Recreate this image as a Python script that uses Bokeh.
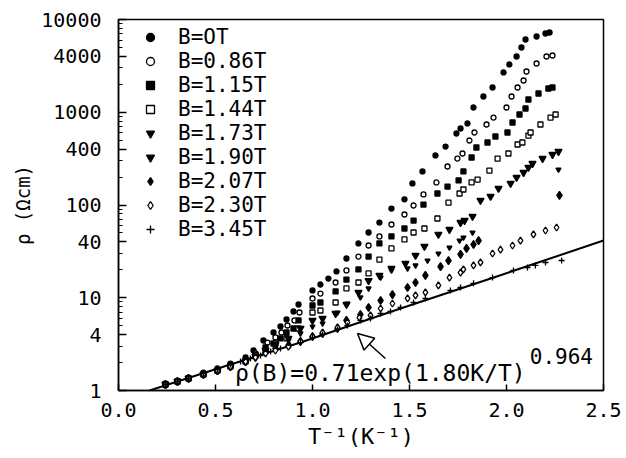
from bokeh.plotting import figure
from bokeh.models import (Range1d, FixedTicker, NumeralTickFormatter, Legend,
                          LegendItem, Arrow, NormalHead)
from bokeh.core.properties import value
from bokeh.embed import file_html
from bokeh.resources import INLINE

FONT = "DejaVu Sans Mono"

# ---------------- data ----------------
labels = ["B=OT", "B=0.86T", "B=1.15T", "B=1.44T", "B=1.73T",
          "B=1.90T", "B=2.07T", "B=2.30T", "B=3.45T"]

x_b000 = [0.242, 0.304, 0.361, 0.438, 0.510, 0.577, 0.655, 0.696, 0.747, 0.799,
          0.835, 0.866, 0.902, 0.928, 1.000, 1.041, 1.082, 1.124, 1.175, 1.237,
          1.289, 1.345, 1.407, 1.474, 1.515, 1.567, 1.634, 1.686, 1.742, 1.763,
          1.799, 1.830, 1.881, 1.928, 1.985, 2.015, 2.052, 2.077, 2.098, 2.155,
          2.201, 2.222]
y_b000 = [1.19, 1.28, 1.38, 1.56, 1.73, 1.95, 2.27, 2.70, 3.46, 4.22,
          4.90, 5.83, 7.11, 8.46, 12.0, 13.9, 16.1, 19.2, 26.5, 38.5,
          50.5, 64.7, 91.6, 115, 171, 230, 342, 427, 590, 668,
          757, 1125, 1479, 1849, 2685, 3275, 3993, 4990, 6085, 6561,
          7063, 7244]

x_b086 = [0.242, 0.304, 0.361, 0.438, 0.510, 0.577, 0.655, 0.706, 0.768, 0.809,
          0.840, 0.871, 0.907, 0.933, 1.000, 1.041, 1.119, 1.175, 1.237, 1.289,
          1.345, 1.407, 1.474, 1.521, 1.572, 1.639, 1.696, 1.747, 1.773, 1.809,
          1.835, 1.897, 1.933, 2.000, 2.026, 2.057, 2.088, 2.103, 2.155, 2.206,
          2.237]
y_b086 = [1.16, 1.25, 1.35, 1.49, 1.64, 1.81, 2.05, 2.51, 3.29, 3.73,
          4.22, 5.02, 5.69, 6.93, 9.82, 11.1, 14.6, 19.7, 27.8, 36.6,
          45.8, 61.6, 79.0, 98.8, 130, 175, 260, 317, 359, 496,
          605, 738, 877, 1125, 1479, 1849, 2200, 2749, 3356, 3993,
          4093]

x_b115 = [0.242, 0.304, 0.361, 0.438, 0.510, 0.577, 0.655, 0.706, 0.758, 0.799,
          0.835, 0.866, 0.902, 0.928, 1.000, 1.041, 1.119, 1.175, 1.237, 1.289,
          1.345, 1.407, 1.474, 1.521, 1.572, 1.644, 1.696, 1.753, 1.778, 1.820,
          1.845, 1.902, 1.943, 2.005, 2.031, 2.067, 2.098, 2.113, 2.165, 2.216,
          2.237]
y_b115 = [1.16, 1.25, 1.35, 1.49, 1.64, 1.86, 2.11, 2.44, 2.91, 3.21,
          3.64, 4.22, 4.66, 5.69, 8.25, 8.89, 11.7, 15.7, 20.2, 27.8,
          38.5, 45.8, 55.8, 68.0, 101, 133, 158, 184, 230, 325,
          417, 472, 548, 605, 775, 946, 1097, 1372, 1592, 1803,
          1849]

x_b144 = [0.242, 0.304, 0.361, 0.438, 0.510, 0.577, 0.655, 0.706, 0.758, 0.809,
          0.866, 0.928, 1.000, 1.041, 1.119, 1.175, 1.237, 1.289, 1.345, 1.407,
          1.474, 1.521, 1.577, 1.644, 1.701, 1.758, 1.778, 1.820, 1.851, 1.912,
          1.954, 2.010, 2.057, 2.082, 2.113, 2.124, 2.175, 2.227, 2.253]
y_b144 = [1.16, 1.25, 1.35, 1.49, 1.64, 1.81, 2.05, 2.38, 2.70, 3.21,
          3.64, 4.66, 6.93, 7.29, 8.89, 12.6, 14.6, 18.3, 25.8, 34.0,
          42.5, 50.5, 55.8, 71.5, 106, 133, 147, 175, 188, 235,
          317, 359, 449, 472, 561, 605, 738, 877, 946]

x_b173 = [0.242, 0.304, 0.361, 0.438, 0.510, 0.577, 0.655, 0.706, 0.758, 0.809,
          0.876, 0.938, 1.000, 1.052, 1.119, 1.175, 1.237, 1.289, 1.345, 1.407,
          1.479, 1.531, 1.577, 1.649, 1.706, 1.763, 1.784, 1.825, 1.866, 1.918,
          1.959, 2.021, 2.052, 2.088, 2.113, 2.134, 2.186, 2.237, 2.268]
y_b173 = [1.16, 1.25, 1.35, 1.49, 1.64, 1.81, 2.05, 2.33, 2.70, 3.13,
          3.64, 4.66, 5.69, 5.97, 6.76, 8.46, 11.4, 15.3, 17.4, 20.7,
          23.4, 28.6, 35.7, 48.1, 54.4, 64.7, 68.0, 75.2, 112, 124,
          151, 171, 198, 224, 254, 280, 317, 350, 377]

x_b190 = [0.242, 0.304, 0.361, 0.438, 0.510, 0.577, 0.655, 0.706, 0.758, 0.809,
          0.876, 0.938, 1.000, 1.052, 1.129, 1.180, 1.247, 1.289, 1.351, 1.407,
          1.490, 1.531, 1.593, 1.649, 1.706, 1.758, 1.778, 1.825, 2.268]
y_b190 = [1.16, 1.25, 1.35, 1.49, 1.64, 1.81, 2.05, 2.33, 2.63, 2.98,
          3.46, 4.12, 4.90, 5.28, 6.93, 8.67, 10.1, 12.6, 16.5, 19.7,
          20.7, 22.3, 25.2, 30.0, 34.8, 41.4, 44.6, 50.5, 241]

x_b207 = [0.242, 0.304, 0.361, 0.438, 0.510, 0.577, 0.655, 0.706, 0.758, 0.809,
          0.876, 0.938, 1.000, 1.052, 1.129, 1.175, 1.247, 1.289, 1.351, 1.412,
          1.490, 1.531, 1.582, 1.660, 1.701, 1.763, 1.794, 1.830, 1.856, 2.273]
y_b207 = [1.16, 1.25, 1.35, 1.49, 1.64, 1.81, 2.05, 2.27, 2.57, 2.84,
          3.06, 3.38, 3.82, 4.12, 4.66, 5.69, 6.60, 7.85, 9.34, 10.8,
          12.9, 14.6, 17.4, 21.7, 25.2, 29.3, 34.0, 37.5, 41.4, 127]

x_b230 = [0.242, 0.304, 0.361, 0.438, 0.510, 0.577, 0.655, 0.706, 0.758, 0.809,
          0.876, 0.938, 1.000, 1.052, 1.129, 1.180, 1.242, 1.299, 1.351, 1.412,
          1.490, 1.531, 1.582, 1.649, 1.706, 1.763, 1.778, 1.830, 1.866, 1.928,
          1.969, 2.031, 2.072, 2.139, 2.201, 2.258]
y_b230 = [1.16, 1.25, 1.35, 1.49, 1.64, 1.81, 2.05, 2.27, 2.51, 2.70,
          2.98, 3.38, 3.82, 4.22, 4.78, 5.41, 6.12, 6.44, 7.66, 8.67,
          9.82, 10.6, 11.4, 13.6, 16.5, 18.7, 20.2, 22.3, 24.0, 30.0,
          33.1, 36.6, 41.4, 48.1, 53.1, 57.2]

x_b345 = [0.242, 0.304, 0.361, 0.438, 0.510, 0.577, 0.629, 0.680, 0.732, 0.784,
          0.835, 0.887, 0.938, 1.000, 1.052, 1.129, 1.180, 1.247, 1.299, 1.351,
          1.402, 1.454, 1.521, 1.582, 1.711, 1.763, 1.830, 1.928, 2.036, 2.108,
          2.149, 2.201, 2.284]
y_b345 = [1.16, 1.25, 1.35, 1.52, 1.68, 1.91, 2.05, 2.21, 2.38, 2.63,
          2.84, 3.06, 3.29, 3.73, 4.02, 4.55, 5.02, 5.69, 5.97, 6.76,
          7.11, 7.85, 8.89, 9.82, 12.0, 12.9, 14.3, 16.5, 19.7, 21.2,
          22.3, 24.0, 25.2]

# fitted curve rho(B) = 0.71 exp(1.80K/T)^0.964
fit_x = [0.160, 0.552, 0.938, 1.454, 1.969, 2.500]
fit_y = [1.00, 1.84, 3.29, 7.66, 17.5, 41.4]

x_ticks = [0.0, 0.5, 1.0, 1.5, 2.0, 2.5]
y_ticks = [1, 4, 10, 40, 100, 400, 1000, 4000, 10000]
y_minor = [2, 3, 5, 6, 7, 8, 9, 20, 30, 50, 60, 70, 80, 90,
           200, 300, 500, 600, 700, 800, 900,
           2000, 3000, 5000, 6000, 7000, 8000, 9000]

ann_text = "ρ(B)=0.71exp(1.80K/T)"
ann_x, ann_y = 0.600, 1.55
sup_text = "0.964"
sup_x, sup_y = 2.120, 2.35
arrow_x0, arrow_y0 = 1.376, 2.21
arrow_x1, arrow_y1 = 1.232, 4.12

# ---------------- figure ----------------
p = figure(width=626, height=458, y_axis_type="log",
           x_range=Range1d(0, 2.5), y_range=Range1d(1, 10000),
           output_backend="svg", toolbar_location=None,
           min_border_left=118, min_border_right=23,
           min_border_top=19, min_border_bottom=68)
p.background_fill_color = "white"
p.border_fill_color = "white"
p.outline_line_color = "black"
p.outline_line_width = 1.5
p.xgrid.visible = False
p.ygrid.visible = False

for ax in (p.xaxis[0], p.yaxis[0]):
    ax.axis_line_color = "black"
    ax.axis_line_width = 1.5
    ax.major_tick_line_color = "black"
    ax.major_tick_line_width = 1.5
    ax.minor_tick_line_color = "black"
    ax.major_label_text_font = FONT
    ax.major_label_text_font_size = "20px"
    ax.major_label_text_color = "black"
    ax.axis_label_text_font = FONT
    ax.axis_label_text_font_style = "normal"
    ax.axis_label_text_color = "black"
    ax.major_tick_out = 0
    ax.minor_tick_out = 0

p.xaxis.ticker = FixedTicker(ticks=x_ticks, minor_ticks=[])
p.xaxis.formatter = NumeralTickFormatter(format="0.0")
p.xaxis.major_tick_in = 6
p.xaxis.major_label_standoff = 12
p.xaxis.axis_label = "T⁻¹(K⁻¹)"
p.xaxis.axis_label_text_font_size = "22px"
p.xaxis.axis_label_standoff = 4

p.yaxis.ticker = FixedTicker(ticks=y_ticks, minor_ticks=y_minor)
p.yaxis.formatter = NumeralTickFormatter(format="0")
p.yaxis.major_tick_in = 8
p.yaxis.minor_tick_in = 4
p.yaxis.major_label_standoff = 17
p.yaxis.axis_label = "ρ (Ωcm)"
p.yaxis.axis_label_text_font_size = "19px"
p.yaxis.axis_label_standoff = 4

series = [
    (x_b000, y_b000, "circle", "black", 5),
    (x_b086, y_b086, "circle", "white", 5),
    (x_b115, y_b115, "square", "black", 5),
    (x_b144, y_b144, "square", "white", 5),
    (x_b173, y_b173, "inverted_triangle", "black", 7),
    (x_b190, y_b190, "inverted_triangle", "black", 5),
    (x_b207, y_b207, "diamond", "black", 8),
    (x_b230, y_b230, "diamond", "white", 7),
    (x_b345, y_b345, "cross", "black", 6),
]

p.line(fit_x, fit_y, line_color="black", line_width=2)

items = []
for lab, (xs, ys, mk, fc, sz) in zip(labels, series):
    r = p.scatter(xs, ys, marker=mk, size=sz, fill_color=fc,
                  line_color="black", line_width=1.3)
    items.append(LegendItem(label=lab, renderers=[r]))

legend = Legend(items=items, location=(22, 149))
legend.border_line_color = None
legend.background_fill_alpha = 0
legend.padding = 0
legend.margin = 0
legend.spacing = 0
legend.glyph_width = 20
legend.glyph_height = 24
legend.label_height = 24
legend.label_standoff = 18
legend.label_text_font = FONT
legend.label_text_font_size = "21px"
legend.label_text_color = "black"
p.add_layout(legend)

p.text(x=[ann_x], y=[ann_y], text=[ann_text], text_font=value(FONT),
       text_font_size=value("23px"), text_color="black",
       text_baseline="alphabetic", text_align="left")
p.text(x=[sup_x], y=[sup_y], text=[sup_text], text_font=value(FONT),
       text_font_size=value("21px"), text_color="black",
       text_baseline="alphabetic", text_align="left")

p.add_layout(Arrow(end=NormalHead(size=16, fill_color="white",
                                  line_color="black", line_width=1.5),
                   x_start=arrow_x0, y_start=arrow_y0,
                   x_end=arrow_x1, y_end=arrow_y1,
                   line_color="black", line_width=1.5))

open("out.html", "w").write(file_html(p, INLINE))
